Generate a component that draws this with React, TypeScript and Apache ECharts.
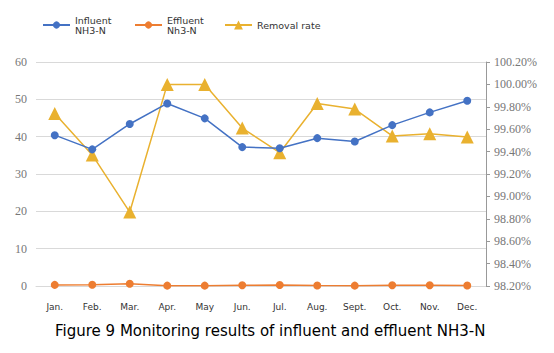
import React, { useEffect, useRef } from "react";
import * as echarts from "echarts";

const months = ["Jan.", "Feb.", "Mar.", "Apr.", "May", "Jun.", "Jul.", "Aug.", "Sept.", "Oct.", "Nov.", "Dec."];
const influent = [40.4, 36.6, 43.4, 48.9, 44.9, 37.2, 36.9, 39.6, 38.7, 43.1, 46.5, 49.6];
const effluent = [0.3, 0.35, 0.6, 0.1, 0.1, 0.2, 0.25, 0.15, 0.1, 0.2, 0.2, 0.15];
const removalRate = [99.74, 99.37, 98.86, 100.0, 100.0, 99.61, 99.39, 99.83, 99.78, 99.54, 99.56, 99.53];
const titleText = "Figure 9 Monitoring results of influent and effluent NH3-N";

export default function App() {
  const ref = useRef<HTMLDivElement>(null);
  useEffect(() => {
    document.body.style.margin = "0";
    const chart = echarts.init(ref.current!, null, { renderer: "svg" });
    const legendText = { fontFamily: "DejaVu Sans", fontSize: 9.5, color: "#333", lineHeight: 10 };
    const numFont = { fontFamily: "'Liberation Serif', 'Times New Roman', serif", fontSize: 12, color: "#777" };
    chart.setOption({
      animation: false,
      grid: { left: 36, right: 68, top: 62, bottom: 67 },
      legend: [
        { data: ["Influent\nNH3-N"], left: 37, top: 10, itemWidth: 27, itemHeight: 9, itemGap: 5, textStyle: legendText },
        { data: ["Effluent\nNh3-N"], left: 129, top: 10, itemWidth: 27, itemHeight: 9, textStyle: legendText },
        { data: ["Removal rate"], left: 219, top: 15, itemWidth: 27, itemHeight: 11, textStyle: legendText },
      ],
      xAxis: {
        type: "category",
        data: months,
        boundaryGap: true,
        axisLine: { lineStyle: { color: "#d9d9d9" } },
        axisTick: { show: false },
        axisLabel: { fontFamily: "DejaVu Sans", fontSize: 9, color: "#333", margin: 16 },
      },
      yAxis: [
        {
          type: "value",
          min: 0,
          max: 60,
          interval: 10,
          axisLine: { show: false },
          axisTick: { show: false },
          axisLabel: { ...numFont, margin: 9 },
          splitLine: { lineStyle: { color: "#d9d9d9", width: 1 } },
        },
        {
          type: "value",
          min: 98.2,
          max: 100.2,
          interval: 0.2,
          position: "right",
          axisLine: { show: true, lineStyle: { color: "#999" } },
          axisTick: { show: true, length: 4, lineStyle: { color: "#999" } },
          axisLabel: { ...numFont, margin: 8, formatter: (v: number) => v.toFixed(2) + "%" },
          splitLine: { show: false },
        },
      ],
      series: [
        {
          name: "Influent\nNH3-N",
          type: "line",
          data: influent,
          symbol: "circle",
          symbolSize: 8,
          itemStyle: { color: "#4472C4" },
          lineStyle: { width: 1.5, color: "#4472C4" },
          z: 3,
        },
        {
          name: "Effluent\nNh3-N",
          type: "line",
          data: effluent,
          symbol: "circle",
          symbolSize: 8,
          itemStyle: { color: "#ED7D31" },
          lineStyle: { width: 1.5, color: "#ED7D31" },
          z: 3,
        },
        {
          name: "Removal rate",
          type: "line",
          yAxisIndex: 1,
          data: removalRate,
          symbol: "triangle",
          symbolSize: 13,
          itemStyle: { color: "#E9B12F" },
          lineStyle: { width: 1.5, color: "#E9B12F" },
          z: 2,
        },
      ],
      graphic: [
        {
          type: "text",
          left: 55,
          top: 323,
          style: { text: titleText, fontFamily: "DejaVu Sans", fontSize: 15, fill: "#000" },
        },
      ],
    });
    return () => chart.dispose();
  }, []);
  return <div ref={ref} style={{ width: 554, height: 353 }} />;
}
